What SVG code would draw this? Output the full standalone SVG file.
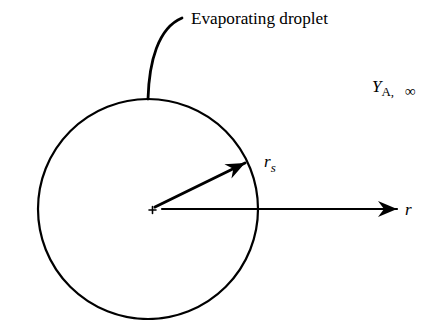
<svg xmlns="http://www.w3.org/2000/svg" width="440" height="320" viewBox="0 0 440 320">
<style>
.ln{fill:none;stroke:#000;stroke-linecap:round}
.lbl{font-family:"Liberation Serif","Times New Roman",serif;fill:#000}
.it{font-style:italic}
</style>
<defs>
<marker id="ah" markerUnits="userSpaceOnUse" markerWidth="22" markerHeight="18" viewBox="-20 -9 22 18" refX="0" refY="0" orient="auto">
<path d="M0,0 L-19,-8 L-13,0 L-19,8 Z" fill="#000"/>
</marker>
</defs>
<rect width="440" height="320" fill="#fff"/>
<g id="droplet">
<circle cx="148" cy="209" r="110" class="ln" stroke-width="2.2"/>
<path d="M149,210 L156,210 M152.5,206.5 L152.5,213.5" class="ln" stroke-width="1.6"/>
</g>
<g id="connectors">
<path d="M148,99 C149,62 158,28 182,18" class="ln" stroke-width="2.8"/>
<path d="M155,207 L245,163" class="ln" stroke-width="3" marker-end="url(#ah)"/>
<path d="M162,209 L397,209" class="ln" stroke-width="2.2" marker-end="url(#ah)"/>
</g>
<g id="label-droplet">
<text x="191" y="24" class="lbl" font-size="17.2">Evaporating droplet</text>
</g>
<g id="label-rs">
<text x="264" y="167" class="lbl it" font-size="17">r<tspan font-size="13" dy="5">s</tspan></text>
</g>
<g id="label-r">
<text x="405" y="215" class="lbl it" font-size="17">r</text>
</g>
<g id="label-Y">
<text x="372" y="92" class="lbl" font-size="17"><tspan class="it">Y</tspan><tspan font-size="13" dy="4">A,</tspan><tspan font-size="15" x="405">∞</tspan></text>
</g>
</svg>
